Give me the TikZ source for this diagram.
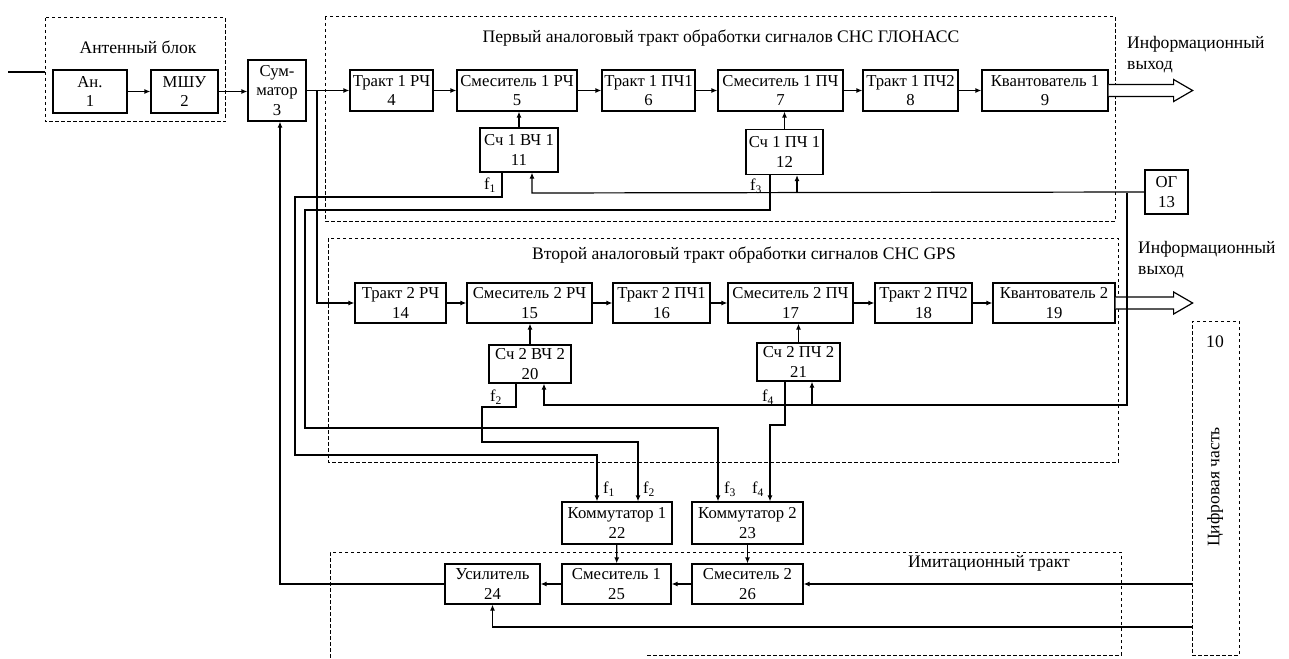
\documentclass[tikz,border=0pt]{standalone}
\usepackage{fontspec}
\setmainfont{Liberation Serif}
\usetikzlibrary{arrows.meta,calc}
\begin{document}
\begin{tikzpicture}[x=1pt,y=-1pt,
 blk/.style={draw, line width=1.2pt, inner sep=0pt, align=center, font=\fontsize{16.7}{19.5}\selectfont},
 grp/.style={draw, line width=1pt, dash pattern=on 3.5pt off 2.5pt},
 wire/.style={line width=1.2pt},
 arr/.style={line width=1.2pt, -{Latex[length=6pt,width=5pt]}},
 ttl/.style={font=\fontsize{17.6}{21}\selectfont, inner sep=0pt},
 fl/.style={font=\fontsize{16.5}{18}\selectfont, inner sep=0pt},
 hollow/.style={draw, line width=1.2pt, fill=white, line join=miter}
]
\useasboundingbox (0,0) rectangle (1289,658);

% group frames
\draw[grp] (45,18) rectangle (225,122);
\draw[grp] (325,17) rectangle (1115,221);
\draw[grp] (328,238) rectangle (1118,462);
\draw[grp] (647,655) -- (1121,655) -- (1121,552) -- (330,552) -- (330,658);
\node[grp, minimum width=47pt, minimum height=334pt, inner sep=0pt] (d10) at (1215.5,488) {};

% titles
\node[ttl] (tA) at (138,47) {Антенный блок};
\node[ttl] (tB) at (721,38) {Первый аналоговый тракт обработки сигналов СНС ГЛОНАСС};
\node[ttl] (tC) at (744,255) {Второй аналоговый тракт обработки сигналов СНС GPS};
\node[ttl] (tD) at (989,563) {Имитационный тракт};
\node[ttl, anchor=north west, align=left] (tE) at (1127,36) {Информационный\\выход};
\node[ttl, anchor=north west, align=left] (tF) at (1138,241) {Информационный\\выход};
\node[ttl] (t10) at (1215,342) {10};
\node[ttl, rotate=90] (tG) at (1215,487) {Цифровая часть};

% blocks
\node[blk, minimum width=74pt, minimum height=43pt] (n1) at (90,91.5) {Ан.\\1};
\node[blk, minimum width=67pt, minimum height=43pt] (n2) at (184.5,91.5) {МШУ\\2};
\node[blk, minimum width=58pt, minimum height=61pt] (n3) at (277,90.5) {Сум-\\матор\\3};
\node[blk, minimum width=83pt, minimum height=41pt] (n4) at (391.5,90.5) {Тракт 1 РЧ\\4};
\node[blk, minimum width=120pt, minimum height=41pt] (n5) at (517,90.5) {Смеситель 1 РЧ\\5};
\node[blk, minimum width=93pt, minimum height=41pt] (n6) at (648.5,90.5) {Тракт 1 ПЧ1\\6};
\node[blk, minimum width=125pt, minimum height=41pt] (n7) at (780.5,90.5) {Смеситель 1 ПЧ\\7};
\node[blk, minimum width=95pt, minimum height=41pt] (n8) at (910.5,90.5) {Тракт 1 ПЧ2\\8};
\node[blk, minimum width=126pt, minimum height=41pt] (n9) at (1045,90.5) {Квантователь 1\\9};
\node[blk, minimum width=78pt, minimum height=44pt] (n11) at (519,150) {Сч 1 ВЧ 1\\11};
\node[blk, minimum width=77pt, minimum height=45pt] (n12) at (784.5,152) {Сч 1 ПЧ 1\\12};
\node[blk, minimum width=43pt, minimum height=44pt] (n13) at (1166.5,192) {ОГ\\13};
\node[blk, minimum width=91pt, minimum height=40pt] (n14) at (400.5,303) {Тракт 2 РЧ\\14};
\node[blk, minimum width=125pt, minimum height=40pt] (n15) at (529.5,303) {Смеситель 2 РЧ\\15};
\node[blk, minimum width=97pt, minimum height=40pt] (n16) at (661.5,303) {Тракт 2 ПЧ1\\16};
\node[blk, minimum width=125pt, minimum height=40pt] (n17) at (790.5,303) {Смеситель 2 ПЧ\\17};
\node[blk, minimum width=97pt, minimum height=40pt] (n18) at (923.5,303) {Тракт 2 ПЧ2\\18};
\node[blk, minimum width=122pt, minimum height=40pt] (n19) at (1054,303) {Квантователь 2\\19};
\node[blk, minimum width=82pt, minimum height=38pt] (n20) at (530,364) {Сч 2 ВЧ 2\\20};
\node[blk, minimum width=83pt, minimum height=38pt] (n21) at (798.5,362) {Сч 2 ПЧ 2\\21};
\node[blk, minimum width=110pt, minimum height=42pt] (n22) at (617,523) {Коммутатор 1\\22};
\node[blk, minimum width=111pt, minimum height=42pt] (n23) at (747.5,523) {Коммутатор 2\\23};
\node[blk, minimum width=95pt, minimum height=40pt] (n24) at (492.5,584) {Усилитель\\24};
\node[blk, minimum width=109pt, minimum height=40pt] (n25) at (616.5,584) {Смеситель 1\\25};
\node[blk, minimum width=111pt, minimum height=40pt] (n26) at (747.5,584) {Смеситель 2\\26};

% input
\coordinate (in) at (8,72);
\coordinate (inb) at (45,72);
\draw[wire] (in) -- (inb);

% main chains
\draw[arr] (n1) -- (n2);
\draw[arr] (n2.east) -- (n2.east -| n3.west);
\draw[arr] (n3.east) -- (n3.east -| n4.west);
\draw[arr] (n4) -- (n5);
\draw[arr] (n5) -- (n6);
\draw[arr] (n6) -- (n7);
\draw[arr] (n7) -- (n8);
\draw[arr] (n8) -- (n9);
\coordinate (br) at (317,90.5);
\draw[arr] (br) |- (n14.west);
\draw[arr] (n14) -- (n15);
\draw[arr] (n15) -- (n16);
\draw[arr] (n16) -- (n17);
\draw[arr] (n17) -- (n18);
\draw[arr] (n18) -- (n19);
\draw[arr] (n11.north) -- (n11.north |- n5.south);
\draw[arr] (n12.north) -- (n12.north |- n7.south);
\draw[arr] (n20.north) -- (n20.north |- n15.south);
\draw[arr] (n21.north) -- (n21.north |- n17.south);

% information outputs
\draw[hollow] ($(n9.east)+(0,-6)$) -- ++(65,0) -- ++(0,-5) -- ++(19,11) -- ++(-19,11) -- ++(0,-5) -- ($(n9.east)+(0,6)$);
\draw[hollow] ($(n19.east)+(0,-6)$) -- ++(58,0) -- ++(0,-5) -- ++(19,11) -- ++(-19,11) -- ++(0,-5) -- ($(n19.east)+(0,6)$);

% reference oscillator distribution
\coordinate (og11) at (532,193);
\coordinate (og12) at (797,193);
\coordinate (ogd) at (1127,193);
\coordinate (ogb) at (1127,405);
\coordinate (og20) at (544,405);
\coordinate (og21) at (812,405);
\draw[arr] (n13.west) -- (og11) -- (og11 |- n11.south);
\draw[arr] (og12) -- (og12 |- n12.south);
\draw[arr] (ogd) -- (ogb) -- (og20) -- (og20 |- n20.south);
\draw[arr] (og21) -- (og21 |- n21.south);

% f1
\coordinate (f1a) at (502,197);
\coordinate (f1b) at (597,455);
\draw[arr] (f1a |- n11.south) -- (f1a) -- (295,197) -- (295,455) -- (f1b) -- (f1b |- n22.north);
% f3
\coordinate (f3a) at (770,210);
\coordinate (f3b) at (718,428);
\draw[arr] (f3a |- n12.south) -- (f3a) -- (305,210) -- (305,428) -- (f3b) -- (f3b |- n23.north);
% f2
\coordinate (f2a) at (516,407);
\coordinate (f2b) at (638,442);
\draw[arr] (f2a |- n20.south) -- (f2a) -- (482,407) -- (482,442) -- (f2b) -- (f2b |- n22.north);
% f4
\coordinate (f4a) at (785,425);
\coordinate (f4b) at (770,425);
\draw[arr] (f4a |- n21.south) -- (f4a) -- (f4b) -- (f4b |- n23.north);

% f labels
\node[fl] (lf1) at (490,185) {f\textsubscript{1}};
\node[fl] (lf3) at (756,186) {f\textsubscript{3}};
\node[fl] (lf2) at (496,397) {f\textsubscript{2}};
\node[fl] (lf4) at (768,397) {f\textsubscript{4}};
\node[fl] (kf1) at (609,489) {f\textsubscript{1}};
\node[fl] (kf2) at (649,489) {f\textsubscript{2}};
\node[fl] (kf3) at (730,489) {f\textsubscript{3}};
\node[fl] (kf4) at (758,489) {f\textsubscript{4}};

% imitation tract
\draw[arr] (n22) -- (n25);
\draw[arr] (n23) -- (n26);
\draw[arr] (n26) -- (n25);
\draw[arr] (n25) -- (n24);
\draw[arr] (n24.west) -| ([xshift=3pt]n3.south);
\draw[arr] (d10.west |- n26.east) -- (n26.east);
\coordinate (d24) at (1192,627);
\draw[arr] (d24) -| (n24.south);
\end{tikzpicture}
\end{document}
